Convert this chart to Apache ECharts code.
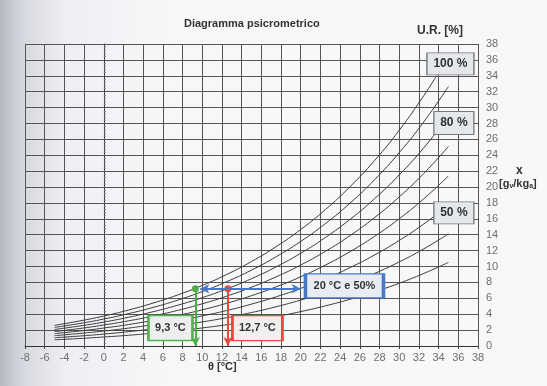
<!DOCTYPE html>
<html><head><meta charset="utf-8">
<script src="https://cdn.jsdelivr.net/npm/echarts@6/dist/echarts.min.js"></script>
<style>html,body{margin:0;padding:0;background:#f6f6f8}#c{width:547px;height:386px}</style>
</head><body><div id="c"></div>
<script>
// Dry-bulb temperatures (°C) at which values were read
var temps = [-5, -2.5, 0, 2.5, 5, 7.5, 10, 12.5, 15, 17.5, 20, 22.5, 25, 27.5, 30, 32.5, 35];
var tempsSat = [-5, -2.5, 0, 2.5, 5, 7.5, 10, 12.5, 15, 17.5, 20, 22.5, 25, 27.5, 30, 32.5, 33.8];
// Humidity ratio x [g/kg] per relative humidity curve
var rh100 = [2.60, 3.14, 3.77, 4.52, 5.40, 6.42, 7.62, 9.01, 10.63, 12.50, 14.66, 17.16, 20.04, 23.34, 27.15, 31.51, 34.02];
var rh90 = [2.34, 2.82, 3.39, 4.07, 4.85, 5.77, 6.85, 8.10, 9.55, 11.23, 13.16, 15.40, 17.97, 20.93, 24.33, 28.21, 32.66];
var rh80 = [2.08, 2.51, 3.01, 3.61, 4.31, 5.13, 6.08, 7.19, 8.47, 9.96, 11.67, 13.65, 15.93, 18.54, 21.53, 24.95, 28.87];
var rh70 = [1.82, 2.19, 2.64, 3.16, 3.77, 4.48, 5.31, 6.28, 7.40, 8.70, 10.19, 11.91, 13.89, 16.16, 18.76, 21.72, 25.11];
var rh60 = [1.56, 1.88, 2.26, 2.70, 3.23, 3.84, 4.55, 5.38, 6.33, 7.44, 8.71, 10.18, 11.87, 13.80, 16.01, 18.53, 21.40];
var rh50 = [1.30, 1.57, 1.88, 2.25, 2.69, 3.19, 3.79, 4.47, 5.27, 6.19, 7.25, 8.46, 9.86, 11.46, 13.28, 15.36, 17.73];
var rh40 = [1.04, 1.25, 1.50, 1.80, 2.15, 2.55, 3.03, 3.57, 4.21, 4.94, 5.78, 6.75, 7.86, 9.13, 10.58, 12.23, 14.11];
var rh30 = [0.78, 0.94, 1.13, 1.35, 1.61, 1.91, 2.27, 2.68, 3.15, 3.70, 4.33, 5.05, 5.88, 6.82, 7.90, 9.13, 10.52];
// Example point and derived temperatures
var pointT = 20, pointX = 7.2;
var dewT = 9.3, wetT = 12.6;
var blueLeftT = 9.8;
// Label texts
var boxLabels = ['100 %', '80 %', '50 %', '20 °C e 50%', '9,3 °C', '12,7 °C'];

function pairs(ts, vs) { return ts.map(function (t, i) { return [t, vs[i]]; }); }
function curve(ts, vs) {
  return { type: 'line', data: pairs(ts, vs), smooth: true, showSymbol: false, silent: true,
    lineStyle: { color: '#3c3c3c', width: 1 }, z: 3 };
}
var chart = echarts.init(document.getElementById('c'), null, { renderer: 'canvas' });
var grayBox = { color: '#e4e7eb', borderColor: '#7a7a7a', borderWidth: 1 };
var lbl = function (sz) { return { show: true, position: 'inside', color: '#333', fontWeight: 'bold', fontSize: sz, fontFamily: 'Liberation Sans, Arial, sans-serif' }; };

var series = [
  curve(tempsSat, rh100), curve(temps, rh90), curve(temps, rh80), curve(temps, rh70),
  curve(temps, rh60), curve(temps, rh50), curve(temps, rh40), curve(temps, rh30),
  { type: 'line', data: [], z: 6,
    markLine: { silent: true, animation: false, symbolSize: [7, 9],
      label: { show: false },
      data: [
        [{ coord: [dewT, pointX], symbol: 'circle', lineStyle: { color: '#4fae4a', width: 2, type: 'solid' } }, { coord: [dewT, 0], symbol: 'arrow' }],
        [{ coord: [wetT, pointX], symbol: 'circle', lineStyle: { color: '#e8493d', width: 2, type: 'solid' } }, { coord: [wetT, 0], symbol: 'arrow' }],
        [{ coord: [pointT, pointX], symbol: 'arrow', lineStyle: { color: '#4a78c8', width: 2, type: 'solid' } }, { coord: [blueLeftT, pointX], symbol: 'arrow' }]
      ] } },
  { type: 'line', data: [], z: 8,
    markPoint: { silent: true, animation: false,
      data: [
        { coord: [35.2, 35.5], symbol: 'rect', symbolSize: [47, 22], itemStyle: grayBox, label: Object.assign(lbl(12), { formatter: boxLabels[0] }) },
        { coord: [35.55, 28.06], symbol: 'rect', symbolSize: [40, 23], itemStyle: grayBox, label: Object.assign(lbl(12), { formatter: boxLabels[1] }) },
        { coord: [35.55, 16.75], symbol: 'rect', symbolSize: [40, 22], itemStyle: grayBox, label: Object.assign(lbl(12), { formatter: boxLabels[2] }) },
        { coord: [24.44, 7.56], symbol: 'rect', symbolSize: [78, 24], itemStyle: { color: '#e8edf3', borderColor: '#4a78c8', borderWidth: 2 }, label: Object.assign(lbl(11), { formatter: boxLabels[3] }) },
        { coord: [6.77, 2.25], symbol: 'rect', symbolSize: [44, 25], itemStyle: { color: '#ecefed', borderColor: '#55b050', borderWidth: 2 }, label: Object.assign(lbl(11), { formatter: boxLabels[4] }) },
        { coord: [15.6, 2.25], symbol: 'rect', symbolSize: [50, 25], itemStyle: { color: '#f0eeee', borderColor: '#e8493d', borderWidth: 2 }, label: Object.assign(lbl(11), { formatter: boxLabels[5] }) }
      ] } }
];

chart.setOption({
  animation: false,
  backgroundColor: { type: 'linear', x: 0, y: 0, x2: 1, y2: 0, colorStops: [
    { offset: 0, color: '#b4b7c0' }, { offset: 0.04, color: '#d6d8df' }, { offset: 0.12, color: '#eeeff3' }, { offset: 0.3, color: '#f7f7f9' }, { offset: 1, color: '#f8f8fa' }] },
  textStyle: { fontFamily: 'Liberation Sans, Arial, sans-serif' },
  grid: { left: 25, right: 69, top: 44, bottom: 40, containLabel: false },
  xAxis: { type: 'value', min: -8, max: 38, interval: 2,
    axisLine: { show: true, onZero: false, lineStyle: { color: '#333', width: 1 } },
    axisTick: { show: true, length: 3, lineStyle: { color: '#444' } },
    axisLabel: { color: '#6e6e6e', fontSize: 11, margin: 6 },
    splitLine: { show: true, lineStyle: { color: '#555', width: 1 } } },
  yAxis: { type: 'value', position: 'right', min: 0, max: 38, interval: 2,
    axisLine: { show: true, lineStyle: { color: '#444', width: 1 } },
    axisTick: { show: true, length: 4, lineStyle: { color: '#555' } },
    minorTick: { show: true, splitNumber: 5, length: 2, lineStyle: { color: '#777' } },
    axisLabel: { color: '#6e6e6e', fontSize: 11, margin: 8 },
    splitLine: { show: true, lineStyle: { color: '#555', width: 1 } } },
  graphic: [
    { type: 'text', x: 184, y: 18, style: { text: 'Diagramma psicrometrico', fill: '#333', font: 'bold 11px Liberation Sans, Arial, sans-serif' } },
    { type: 'text', x: 417, y: 25, style: { text: 'U.R. [%]', fill: '#333', font: 'bold 12px Liberation Sans, Arial, sans-serif' } },
    { type: 'text', x: 208, y: 361, style: { text: 'θ [°C]', fill: '#333', font: 'bold 11px Liberation Sans, Arial, sans-serif' } },
    { type: 'text', x: 516, y: 165, style: { text: 'x', fill: '#333', font: 'bold 12px Liberation Sans, Arial, sans-serif' } },
    { type: 'text', x: 499, y: 178, style: { text: '{n|[g}{s|v}{n|/kg}{s|a}{n|]}', rich: {
        n: { fill: '#333', font: 'bold 11px Liberation Sans, Arial, sans-serif' },
        s: { fill: '#333', font: 'bold 7px Liberation Sans, Arial, sans-serif', padding: [5, 0, 0, 0] } } } }
  ],
  series: series
});
</script></body></html>
